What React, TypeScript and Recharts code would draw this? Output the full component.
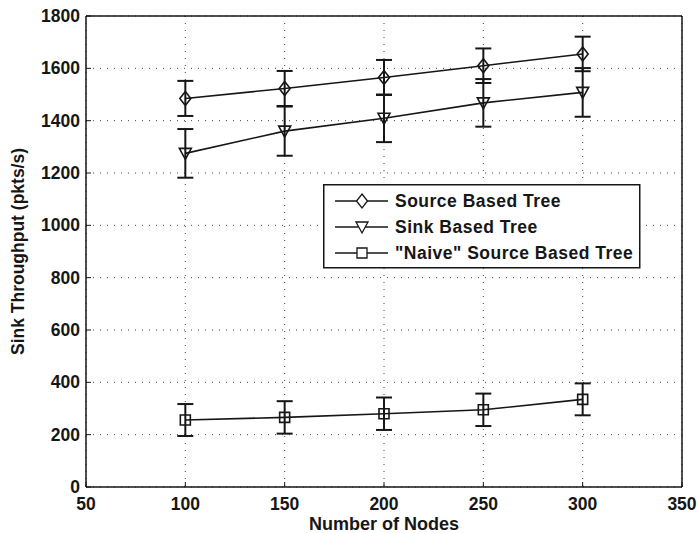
import React from 'react';
import {
  LineChart, Line, XAxis, YAxis, CartesianGrid, ErrorBar, ReferenceLine, Label,
} from 'recharts';

// values
const nodes = [100, 150, 200, 250, 300];
const sourceTree = [1485, 1523, 1565, 1610, 1655];
const sourceErr = [67, 67, 67, 66, 66];
const sinkTree = [1275, 1360, 1409, 1468, 1508];
const sinkErr = [93, 94, 91, 91, 93];
const naiveTree = [256, 266, 280, 295, 335];
const naiveErr = [61, 62, 62, 62, 61];

const xTicks = [50, 100, 150, 200, 250, 300, 350];
const yTicks = [0, 200, 400, 600, 800, 1000, 1200, 1400, 1600, 1800];

const seriesNames = ['Source Based Tree', 'Sink Based Tree', '"Naive" Source Based Tree'];

const data = nodes.map((n, i) => ({
  nodes: n,
  source: sourceTree[i],
  sourceErr: sourceErr[i],
  sink: sinkTree[i],
  sinkErr: sinkErr[i],
  naive: naiveTree[i],
  naiveErr: naiveErr[i],
}));

const FONT = '"Liberation Sans", Arial, Helvetica, sans-serif';
const INK = '#161616';
const TICK_GAP = 8; // tickSize + tickMargin on the x axis

type Shape = 'diamond' | 'triangle' | 'square';

function markerPath(shape: Shape, cx: number, cy: number) {
  if (shape === 'diamond') return `M${cx},${cy - 7}L${cx + 5.5},${cy}L${cx},${cy + 7}L${cx - 5.5},${cy}Z`;
  if (shape === 'triangle') return `M${cx - 6},${cy - 5}L${cx + 6},${cy - 5}L${cx},${cy + 6}Z`;
  return `M${cx - 5},${cy - 5}L${cx + 5},${cy - 5}L${cx + 5},${cy + 5}L${cx - 5},${cy + 5}Z`;
}

const makeDot = (shape: Shape) => (props: any) => {
  const { cx, cy, index } = props;
  if (cx == null || cy == null) return <g key={index} />;
  return (
    <path key={`${shape}-${index}`} d={markerPath(shape, cx, cy)} fill="none" stroke={INK} strokeWidth={1.6} />
  );
};

const shapes: Shape[] = ['diamond', 'triangle', 'square'];

// x tick: label plus a short inward tick mark (matlab style)
const XTick = (props: any) => {
  const { x, y, payload } = props;
  const axisY = y - TICK_GAP;
  return (
    <g>
      <line x1={x} x2={x} y1={axisY} y2={axisY - 5} stroke={INK} strokeWidth={1} />
      <text x={x} y={y + 15} textAnchor="middle" fontFamily={FONT} fontWeight="bold" fontSize={17.5} fill={INK}>
        {payload.value}
      </text>
    </g>
  );
};

const YTick = (props: any) => {
  const { x, y, payload } = props;
  const axisX = x + 6;
  return (
    <g>
      <line x1={axisX} x2={axisX + 5} y1={y} y2={y} stroke={INK} strokeWidth={1} />
      <text x={x} y={y + 6} textAnchor="end" fontFamily={FONT} fontWeight="bold" fontSize={17.5} fill={INK}>
        {payload.value}
      </text>
    </g>
  );
};

function LegendBox() {
  const rows = [17, 43, 69];
  return (
    <svg width={318} height={85} style={{ position: 'absolute', left: 323, top: 184 }}>
      <rect x={0.75} y={0.75} width={316} height={83} fill="#fff" stroke={INK} strokeWidth={1.5} />
      {seriesNames.map((name, i) => (
        <g key={name}>
          <line x1={12} x2={65} y1={rows[i]} y2={rows[i]} stroke={INK} strokeWidth={1.5} />
          <path d={markerPath(shapes[i], 39, rows[i])} fill="#fff" stroke={INK} strokeWidth={1.3} />
          <text x={72} y={rows[i] + 6} fontFamily={FONT} fontWeight="bold" fontSize={17.5}
            letterSpacing={0.5} fill={INK}>{name}</text>
        </g>
      ))}
    </svg>
  );
}

export default function App() {
  return (
    <div style={{ position: 'absolute', left: 0, top: 0, width: 697, height: 533, background: '#fff' }}>
      <LineChart width={697} height={533} data={data} margin={{ top: 16, right: 15, left: 0, bottom: 0 }}>
        <CartesianGrid stroke="#444" strokeDasharray="1 6" />
        <XAxis
          dataKey="nodes" type="number" domain={[50, 350]} ticks={xTicks} height={46}
          stroke={INK} strokeWidth={1.5} tickLine={false} tick={<XTick />} tickSize={6} tickMargin={2}
          allowDataOverflow
        >
          <Label value="Number of Nodes" position="insideBottom" offset={3}
            style={{ fontFamily: FONT, fontWeight: 'bold', fontSize: 18, fill: INK }} />
        </XAxis>
        <YAxis
          type="number" domain={[0, 1800]} ticks={yTicks} width={86}
          stroke={INK} strokeWidth={1.5} tickLine={false} tick={<YTick />} tickSize={6} tickMargin={0}
          allowDataOverflow
        >
          <Label value="Sink Throughput (pkts/s)" angle={-90} position="insideLeft" offset={18}
            style={{ fontFamily: FONT, fontWeight: 'bold', fontSize: 17.5, fill: INK, textAnchor: 'middle' }} />
        </YAxis>
        <ReferenceLine y={1800} stroke={INK} strokeWidth={1.5} />
        <ReferenceLine x={350} stroke={INK} strokeWidth={1.5} />
        <Line dataKey="source" stroke={INK} strokeWidth={1.6} dot={makeDot('diamond')} activeDot={false} isAnimationActive={false}>
          <ErrorBar dataKey="sourceErr" width={8} stroke={INK} strokeWidth={2} direction="y" />
        </Line>
        <Line dataKey="sink" stroke={INK} strokeWidth={1.6} dot={makeDot('triangle')} activeDot={false} isAnimationActive={false}>
          <ErrorBar dataKey="sinkErr" width={8} stroke={INK} strokeWidth={2} direction="y" />
        </Line>
        <Line dataKey="naive" stroke={INK} strokeWidth={1.6} dot={makeDot('square')} activeDot={false} isAnimationActive={false}>
          <ErrorBar dataKey="naiveErr" width={8} stroke={INK} strokeWidth={2} direction="y" />
        </Line>
      </LineChart>
      <LegendBox />
    </div>
  );
}
